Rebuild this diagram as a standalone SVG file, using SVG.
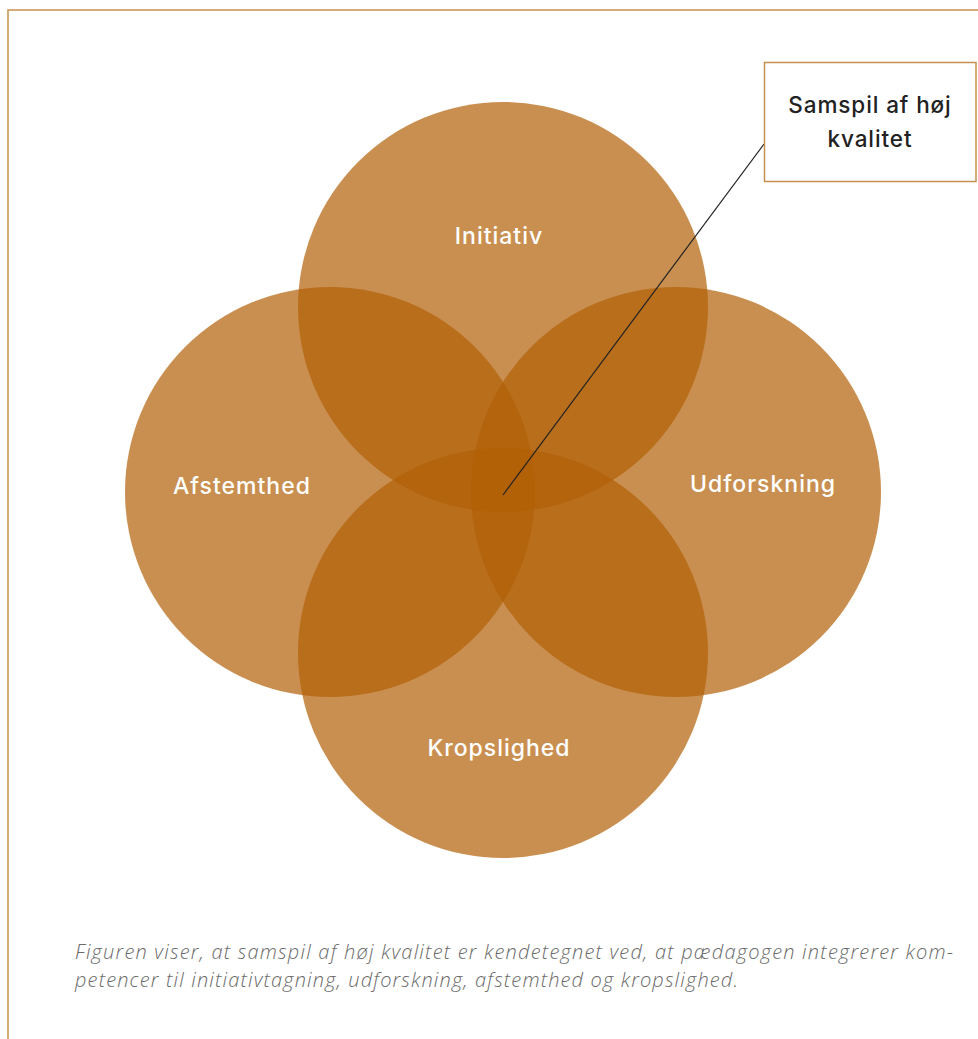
<svg xmlns="http://www.w3.org/2000/svg" width="978" height="1039" viewBox="0 0 978 1039">
<style>
.c{fill:#B26006;fill-opacity:0.7}
.lbl{font-family:Inter,"Open Sans","Liberation Sans",sans-serif;font-size:23px;font-weight:500;letter-spacing:1px;fill:#ffffff;text-anchor:middle}
.box{font-family:Inter,"Open Sans","Liberation Sans",sans-serif;font-size:22.5px;font-weight:500;letter-spacing:0.9px;fill:#222222;text-anchor:middle}
.cap{font-family:"Open Sans","Liberation Sans",sans-serif;font-size:20px;font-style:italic;font-weight:300;fill:#6a6a6a}
</style>
<rect width="978" height="1039" fill="#ffffff"/>
<path d="M8 1039 V10 H978" fill="none" stroke="#C8904F" stroke-width="1.5"/>
<g id="initiativ"><circle class="c" cx="503" cy="307" r="205"/><text class="lbl" x="499" y="244">Initiativ</text></g>
<g id="afstemthed"><circle class="c" cx="330" cy="492" r="205"/><text class="lbl" x="242" y="494">Afstemthed</text></g>
<g id="udforskning"><circle class="c" cx="676" cy="492" r="205"/><text class="lbl" x="763" y="492">Udforskning</text></g>
<g id="kropslighed"><circle class="c" cx="503" cy="653" r="205"/><text class="lbl" x="499" y="756">Kropslighed</text></g>
<g id="connectors"><line x1="503" y1="495" x2="764" y2="144" stroke="#222222" stroke-width="1.2"/></g>
<g id="samspil"><rect x="764.5" y="62.5" width="211.5" height="119" fill="#ffffff" stroke="#C8904F" stroke-width="1.5"/><text class="box" x="870" y="113">Samspil af høj</text><text class="box" x="870" y="147">kvalitet</text></g>
<g id="caption"><text class="cap" x="75" y="959" textLength="878" lengthAdjust="spacing">Figuren viser, at samspil af høj kvalitet er kendetegnet ved, at pædagogen integrerer kom-</text><text class="cap" x="75" y="987" textLength="663" lengthAdjust="spacing">petencer til initiativtagning, udforskning, afstemthed og kropslighed.</text></g>
</svg>
